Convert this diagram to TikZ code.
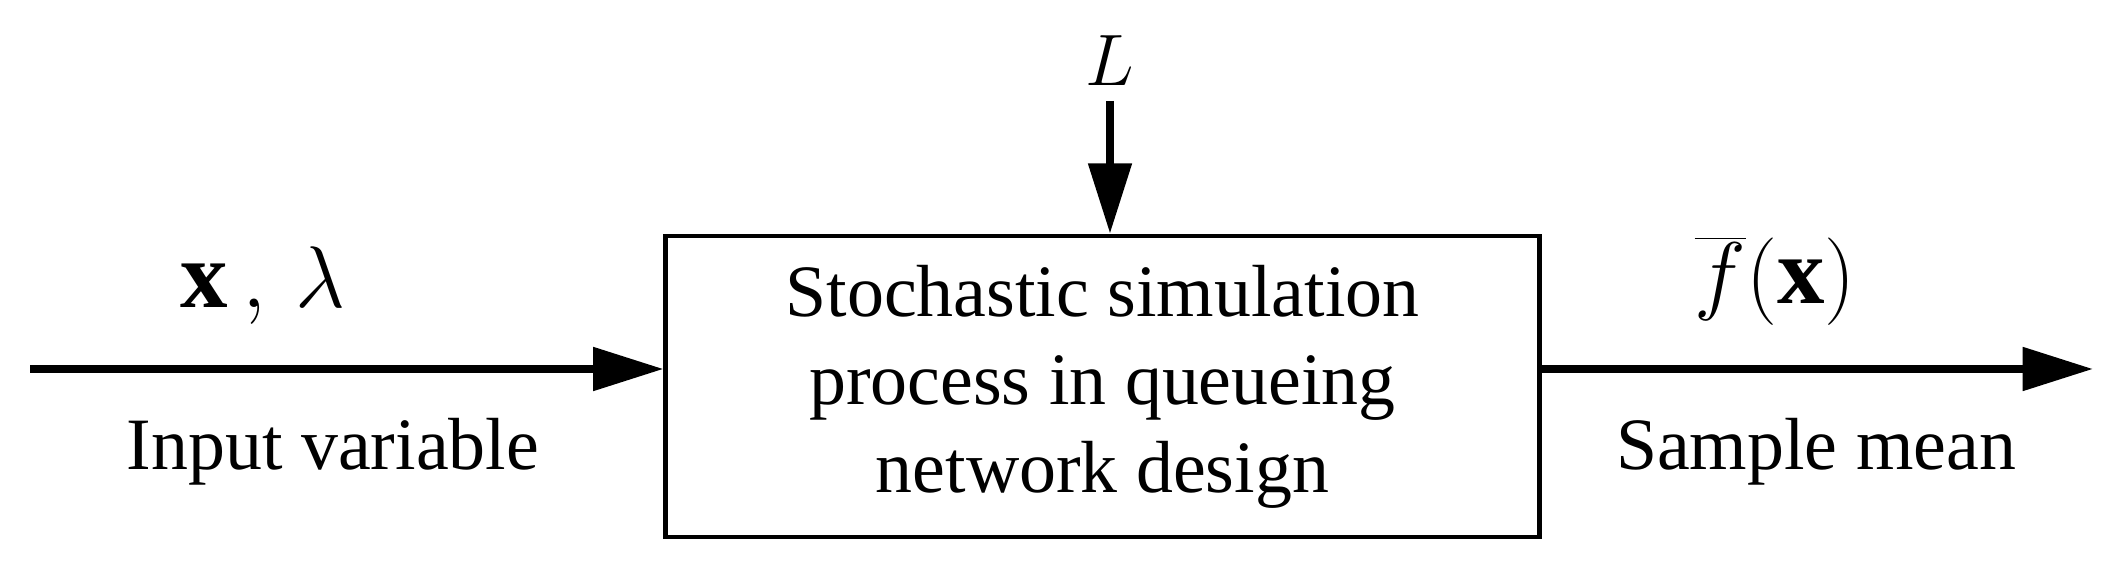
\documentclass[tikz,border=0pt]{standalone}
\usepackage{fontspec}
\setmainfont{Liberation Serif}
\usetikzlibrary{arrows.meta}
\begin{document}
\begin{tikzpicture}[x=0.01cm,y=0.01cm,
  lbl/.style={font=\fontsize{21}{25}\selectfont},
  mlbl/.style={font=\fontsize{27}{30}\selectfont},
  arr/.style={line width=2.2pt,-{Triangle[length=20pt,width=12pt]}}]
\useasboundingbox (0,0) rectangle (2117,576);
\node[draw,line width=1.3pt,minimum width=8.73cm,minimum height=3.01cm,align=center,lbl] (box) at (1102.5,189.5)
 {Stochastic simulation\\process in queueing\\network design};
\coordinate (in) at (30,207);
\coordinate (out) at (2093,207);
\coordinate (top) at (1110,475);
\draw[arr] (in) -- (box.west |- in);
\draw[arr] (box.east |- out) -- (out);
\draw[arr] (top) -- (box.north -| top);
\node[lbl] (L) at (1110,515) {$L$};
\node[mlbl] (xl) at (263,290) {$\mathbf{x}\,,\,\lambda$};
\node[lbl] (iv) at (333,124) {Input variable};
\node[mlbl] (f) at (1775,295) {$\overline{f}(\mathbf{x})$};
\node[lbl] (sm) at (1816,124) {Sample mean};
\end{tikzpicture}
\end{document}
